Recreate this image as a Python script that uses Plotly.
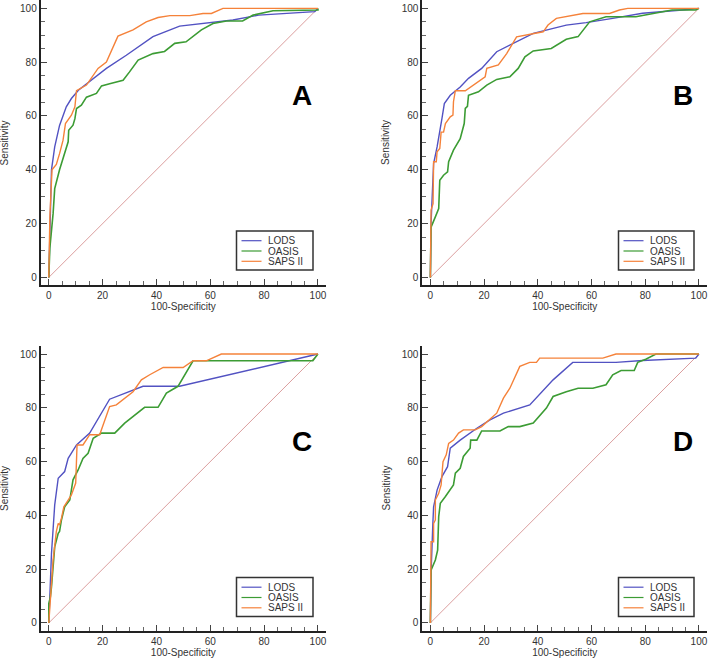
import plotly.graph_objects as go

# Series names and colours (MedCalc style ROC comparison)
names = ["LODS", "OASIS", "SAPS II"]
colors = ["#5252C2", "#3C9C34", "#F5823A"]
panels = ["A", "B", "C", "D"]

# Panel A
a_lods_x = [0, 1, 2.2, 4, 6.5, 8.4, 11, 16.5, 21.4, 28.8, 38.7, 48.6, 61, 68.4, 78, 88, 98.8, 100]
a_lods_y = [0, 40, 48.5, 56.5, 63.4, 66.5, 69.6, 74, 77.7, 82.6, 89.5, 93.4, 94.7, 95.7, 97.5, 98.2, 98.8, 100]
a_oasis_x = [0, 0.4, 1.6, 2.2, 4, 5.9, 7.2, 7.4, 9, 9.7, 10.3, 12.1, 14, 17.7, 19.6, 22.6, 27.6, 30, 33.2,
             38.7, 43, 46.8, 51, 56.7, 61, 66, 72, 75.9, 83.3, 100, 100]
a_oasis_y = [0, 11, 23.7, 33, 40, 46, 50.4, 54.7, 56.6, 59, 62.8, 64, 67, 68.4, 71.2, 72, 73.3, 76.4, 80.8,
             83.2, 84, 87, 87.6, 92, 94.4, 95.3, 95.3, 97.5, 99.1, 99.4, 100]
a_saps_x = [0, 0.4, 1.2, 2.8, 4, 5.3, 6.2, 8.4, 9.7, 10.3, 14, 15.8, 18.3, 21.4, 24, 25.7, 31.3, 36.2, 40.6,
            45, 52.4, 57.3, 60.4, 64.7, 100]
a_saps_y = [0, 22.5, 40, 42, 46, 51, 57.2, 60.3, 63.4, 69.4, 71.5, 74, 77.7, 80.1, 85.7, 89.7, 92, 95, 96.6,
            97.3, 97.3, 98.1, 98.1, 100, 100]

# Panel B
b_lods_x = [0, 0.25, 1.2, 2.5, 4.3, 5.2, 7.4, 11.1, 14.2, 19.1, 24.7, 29.6, 38.3, 50.6, 58, 67.9, 79, 93.8, 100]
b_lods_y = [0, 20, 42.3, 48.5, 59, 64.6, 67.7, 70.8, 74, 77.7, 83.9, 86.4, 90.7, 93.8, 94.7, 96.3, 98.2, 99.4, 100]
b_oasis_x = [0, 0.25, 1.85, 3.1, 3.5, 4.9, 6.4, 6.8, 8.6, 11.1, 12.6, 13, 13.8, 14.2, 17.9, 21, 24.7, 29.6,
             32.7, 35.2, 38.3, 45, 50.6, 55, 59.3, 65.4, 76.5, 82.7, 90, 98.8, 100]
b_oasis_y = [0, 18.7, 22.5, 25.6, 36.1, 38, 39.2, 43, 47.3, 51.6, 57.2, 62.8, 63.6, 67.7, 69, 71.5, 73.6, 74.6,
             77.7, 82, 84.2, 85.1, 88.5, 89.5, 95, 96.9, 96.9, 98.1, 99.4, 99.4, 100]
b_saps_x = [0, 0.25, 1, 1.2, 2.2, 2.5, 3.5, 4, 4.9, 5.6, 7.4, 8.4, 8.6, 9.3, 13, 16, 20.4, 21, 25.3, 28.4,
            32.1, 42, 43.8, 46.9, 53, 56.8, 66.7, 70.4, 73.5, 100]
b_saps_y = [0, 25, 27.4, 43, 43, 46.7, 47.9, 54, 54, 57.2, 59.7, 60.3, 65.3, 69.4, 69.4, 71.5, 74.6, 77.7, 79,
            83.2, 89.4, 91.3, 93.8, 96.3, 97.5, 98.1, 98.1, 99.4, 100, 100]

# Panel C
c_lods_x = [0, 0.4, 1, 2.2, 3.5, 5.9, 7.2, 10.3, 15.2, 22.6, 35, 48.6, 100]
c_lods_y = [0, 12.2, 25.8, 43.9, 53.8, 56.3, 61.2, 66.2, 70.6, 83.2, 88, 88, 100]
c_oasis_x = [0, 0, 0.6, 1, 2.2, 3.5, 4, 4.7, 5.9, 7.8, 9, 10.9, 12.7, 14.6, 16.5, 19.6, 24.5, 28.2, 35.6,
             40.6, 43.7, 48, 53.6, 98.1, 100]
c_oasis_y = [0, 7.2, 9.7, 13.4, 28.3, 33.3, 34, 38.3, 43.2, 45.7, 53.2, 56.9, 61.2, 63.1, 68.7, 70.6, 70.6,
             74.3, 80.2, 80.2, 85.5, 88, 97.5, 97.5, 100]
c_saps_x = [0, 0.4, 1, 1.6, 2, 2.2, 2.8, 3.5, 4, 4.7, 5.6, 7.2, 8.4, 10, 10.5, 12.7, 15.2, 18.9, 22.6, 25.1,
            31.3, 34.4, 37.5, 42.5, 49.9, 53.6, 58.5, 64.1, 100]
c_saps_y = [0, 7.2, 14.7, 23.4, 27, 30.8, 34, 37, 36.4, 38.9, 43.2, 45.7, 47.6, 52, 66.2, 66.2, 70, 70, 80.5,
            81.1, 86, 90.4, 92.3, 95, 95, 97.5, 97.5, 100, 100]

# Panel D
d_lods_x = [0, 0.25, 0.9, 1.2, 2.5, 4.3, 6.4, 7.4, 11.1, 17.3, 22.2, 27.2, 37, 45.7, 53, 69.1, 79, 98.8, 100]
d_lods_y = [0, 18.4, 36.4, 43.2, 49.4, 54.4, 58.1, 65, 68, 72.4, 75.5, 78, 81.1, 90.4, 96.9, 96.9, 97.6, 98.5, 100]
d_oasis_x = [0, 0.25, 1.85, 2.7, 3.1, 3.7, 5.6, 8.6, 9.3, 11.1, 12.3, 14.8, 15, 17.3, 19.1, 25.9, 29, 33.3,
             38.3, 43.2, 45.7, 50.6, 55, 60.5, 65.4, 67.9, 71, 75.9, 77.2, 80.2, 84, 100]
d_oasis_y = [0, 19.6, 23.4, 27.1, 39.5, 44.5, 47, 51.3, 55.7, 57.5, 61.9, 65, 68, 68, 71.4, 71.4, 73, 73,
             74.3, 79.9, 84.2, 86, 87.3, 87.3, 88.6, 92.3, 93.9, 93.9, 96.9, 98.1, 100, 100]
d_saps_x = [0, 0.25, 1.2, 1.2, 1.85, 1.85, 3.1, 4, 4.7, 5.9, 6.8, 8.6, 10.5, 12.3, 16.7, 19.1, 24.7, 27.2,
            29.6, 30.9, 33.3, 37, 39.5, 40.7, 64.2, 69.1, 100]
d_saps_y = [0, 30.2, 30.2, 37, 38.3, 45.7, 48.2, 51.3, 60, 62.5, 66.8, 68, 70.6, 71.8, 71.8, 73, 78, 83.6,
            87.3, 90.4, 95.4, 96.9, 96.9, 98.5, 98.5, 100, 100]

# Reference (chance) line
diag = [0, 100]

panel_series = {
    "A": [(a_lods_x, a_lods_y), (a_oasis_x, a_oasis_y), (a_saps_x, a_saps_y)],
    "B": [(b_lods_x, b_lods_y), (b_oasis_x, b_oasis_y), (b_saps_x, b_saps_y)],
    "C": [(c_lods_x, c_lods_y), (c_oasis_x, c_oasis_y), (c_saps_x, c_saps_y)],
    "D": [(d_lods_x, d_lods_y), (d_oasis_x, d_oasis_y), (d_saps_x, d_saps_y)],
}

W, H = 708, 659
font = "Liberation Sans, Arial, sans-serif"
x_domains = [[0.0575, 0.4605], [0.5965, 0.9986], [0.0575, 0.4605], [0.5965, 0.9986]]
y_domains = [[0.5668, 0.9995], [0.5668, 0.9995], [0.0425, 0.475], [0.0425, 0.475]]
ytitle_x = [4.5, 386, 4.5, 386]  # pixel x of the rotated "Sensitivity" titles
# legend boxes in pixels: left, top, right, bottom
legend_boxes = [(236.5, 231, 313, 270), (618.5, 231, 694, 270),
                (236.5, 577.5, 313, 616.5), (618.5, 577.5, 694, 616.5)]


def fx(px):
    return px / W


def fy(py):
    return 1 - py / H


fig = go.Figure()
shapes = []
annotations = []
layout = dict(
    width=W, height=H,
    margin=dict(l=0, r=0, t=0, b=0),
    paper_bgcolor="white", plot_bgcolor="white",
    font=dict(family=font, size=10, color="#333333"),
    showlegend=False,
)

for i, p in enumerate(panels):
    sfx = "" if i == 0 else str(i + 1)
    # chance line
    fig.add_trace(go.Scatter(x=diag, y=diag, mode="lines", line=dict(color="#DB9E9E", width=1),
                             hoverinfo="skip", xaxis="x" + sfx, yaxis="y" + sfx))
    for (xs, ys), name, col in zip(panel_series[p], names, colors):
        fig.add_trace(go.Scatter(x=xs, y=ys, mode="lines", name=name,
                                 line=dict(color=col, width=1.4 if name != "OASIS" else 1.6),
                                 xaxis="x" + sfx, yaxis="y" + sfx))
    axis_common = dict(
        range=[-3, 103], dtick=20, tick0=0, showgrid=False, zeroline=False,
        showline=True, linewidth=2, linecolor="#222222", automargin=False,
        ticks="inside", ticklen=6, tickwidth=1, tickcolor="#444444",
        minor=dict(dtick=5, ticks="inside", ticklen=4, tickwidth=1, tickcolor="#666666"),
        tickfont=dict(size=10, color="#333333"),
    )
    layout["xaxis" + sfx] = dict(axis_common, domain=x_domains[i], anchor="y" + sfx,
                                 title=dict(text="100-Specificity", font=dict(size=10), standoff=3))
    layout["yaxis" + sfx] = dict(axis_common, domain=y_domains[i], anchor="x" + sfx)
    yd = y_domains[i]
    annotations.append(dict(text="Sensitivity", textangle=-90, xref="paper", yref="paper",
                            x=fx(ytitle_x[i]), y=(yd[0] + yd[1]) / 2, xanchor="center", yanchor="middle",
                            showarrow=False, font=dict(size=10, color="#333333", family=font)))
    annotations.append(dict(text="<b>%s</b>" % p, x=94, y=67.5, xref="x" + sfx, yref="y" + sfx,
                            showarrow=False, font=dict(size=28, color="black", family=font)))

    # hand-drawn compact legend box (MedCalc style)
    l, t, r, b = legend_boxes[i]
    shapes.append(dict(type="rect", xref="paper", yref="paper", x0=fx(l), x1=fx(r), y0=fy(b), y1=fy(t),
                       line=dict(color="#333333", width=1.5), fillcolor="white", layer="above"))
    for k, (name, col) in enumerate(zip(names, colors)):
        yy = t + 9.7 + k * 10.3
        shapes.append(dict(type="line", xref="paper", yref="paper", x0=fx(l + 5), x1=fx(l + 25),
                           y0=fy(yy), y1=fy(yy), line=dict(color=col, width=1.2), layer="above"))
        annotations.append(dict(text=name, xref="paper", yref="paper", x=fx(l + 29), y=fy(yy),
                                xanchor="left", yanchor="middle", showarrow=False,
                                font=dict(size=10, color="#333333", family=font)))

layout["shapes"] = shapes
layout["annotations"] = annotations
fig.update_layout(**layout)
# the page body has a default 8px margin; drop it so the figure sits at the window origin
fig.write_html("out.html", config={"displayModeBar": False},
               post_script="document.body.style.margin='0';")
